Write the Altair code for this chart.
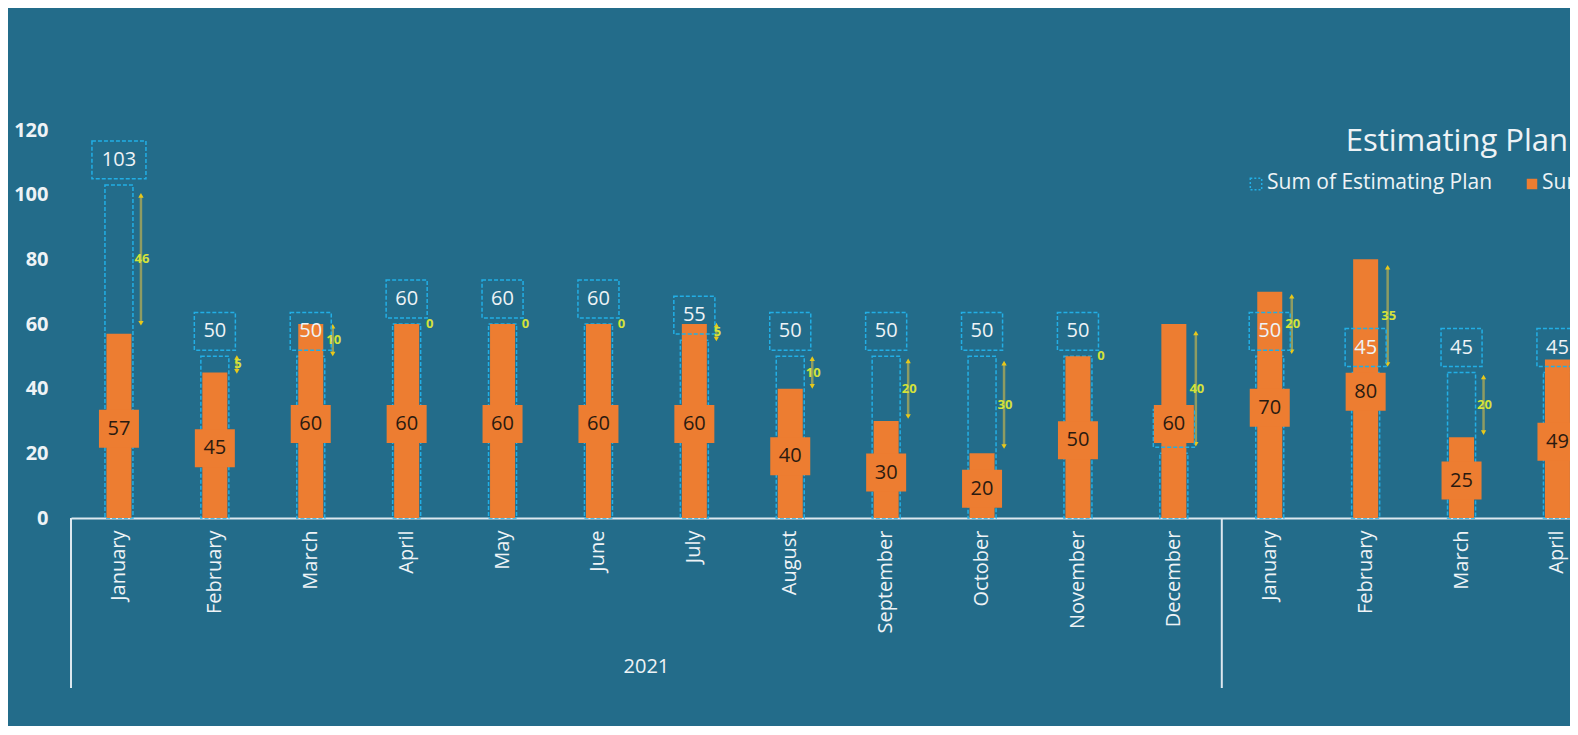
import altair as alt
import pandas as pd

# ---------------- data ----------------
years = ["2021"] * 12 + ["2022"] * 4
months = ["January", "February", "March", "April", "May", "June", "July",
          "August", "September", "October", "November", "December",
          "January", "February", "March", "April"]
plan = [103, 50, 50, 60, 60, 60, 55, 50, 50, 50, 50, 20, 50, 45, 45, 45]
actual = [57, 45, 60, 60, 60, 60, 60, 40, 30, 20, 50, 60, 70, 80, 25, 49]
y_ticks = [0, 20, 40, 60, 80, 100, 120]
title_text = "Estimating Plan"
legend_names = ["Sum of Estimating Plan", "Sum of Actual"]

df = pd.DataFrame({"year": years, "month": months, "plan": plan, "actual": actual})
df["key"] = df["year"] + "|" + df["month"]
keys = list(df["key"])

# first month of each year -> separators; middle of full years -> year labels
sep_df = df.groupby("year", sort=False).head(1)[["key"]]
full_years = df.groupby("year", sort=False)["key"].apply(list)
year_df = pd.DataFrame([{"key": ks[5], "year": y} for y, ks in full_years.items() if len(ks) == 12])

# ---------------- style ----------------
BG = "#236C8A"
ORANGE = "#ED7D31"
CYAN = "#22AEE5"
LIGHT = "#EEF3F6"
FONT = "Open Sans"
STEP = 95.9
H = 388

xscale = alt.Scale(domain=keys, range=[0, STEP * len(keys)], paddingInner=0, paddingOuter=0)
xaxis = alt.Axis(title=None, labelExpr="split(datum.label, '|')[1]", labelAngle=-90,
                 labelFontSize=20, labelColor=LIGHT, labelFont=FONT, labelPadding=12,
                 ticks=False, tickSize=0, domainColor="#DCE8EF", domainWidth=2,
                 grid=False, labelOverlap=False)
yscale = alt.Scale(domain=[0, 120])
yaxis = alt.Axis(title=None, values=y_ticks, labelFontSize=20, labelFontWeight="bold",
                 labelColor=LIGHT, labelFont=FONT, labelPadding=23, ticks=False,
                 tickSize=0, domain=False, grid=False)


def X(**kw):
    return alt.X("key:N", sort=keys, scale=xscale, axis=xaxis, **kw)


base = alt.Chart(df)

plan_bar = base.mark_bar(filled=False, stroke=CYAN, strokeWidth=1.5,
                         strokeDash=[4, 2], size=28).encode(
    x=X(), y=alt.Y("plan:Q", scale=yscale, axis=yaxis))

actual_bar = base.mark_bar(color=ORANGE, size=25).encode(
    x=X(), y=alt.Y("actual:Q", scale=yscale, axis=yaxis))

diffs = base.transform_calculate(
    diff="abs(datum.actual - datum.plan)",
    mid="(datum.actual + datum.plan) / 2",
    lo="(datum.actual + datum.plan) / 2 - 0.43 * abs(datum.actual - datum.plan)",
    hi="(datum.actual + datum.plan) / 2 + 0.43 * abs(datum.actual - datum.plan)",
)

err_rule = diffs.transform_filter("datum.diff > 0").mark_rule(
    color="#8E9C62", strokeWidth=2.5, xOffset=22).encode(
    x=X(), y=alt.Y("lo:Q", scale=yscale, axis=yaxis), y2="hi:Q")
cap_top = diffs.transform_filter("datum.diff > 0").mark_point(
    shape="triangle-up", filled=True, size=28, color="#E8C81A", opacity=1, xOffset=22).encode(
    x=X(), y=alt.Y("hi:Q", scale=yscale, axis=yaxis))
cap_bot = diffs.transform_filter("datum.diff > 0").mark_point(
    shape="triangle-down", filled=True, size=28, color="#E8C81A", opacity=1, xOffset=22).encode(
    x=X(), y=alt.Y("lo:Q", scale=yscale, axis=yaxis))

path2 = "M-0.76,-0.7H0.76V0.7H-0.76Z"
path3 = "M-1,-0.7H1V0.7H-1Z"
plan_box = base.transform_calculate(nd="'' + length('' + datum.plan)").mark_point(
    filled=False, stroke=CYAN, strokeWidth=1.5, strokeDash=[4, 2], size=2916,
    opacity=1, yOffset=-25).encode(
    x=X(), y=alt.Y("plan:Q", scale=yscale, axis=yaxis),
    shape=alt.Shape("nd:N", scale=alt.Scale(domain=["1", "2", "3"], range=[path2, path2, path3]),
                    legend=None))
plan_text = base.mark_text(font=FONT, fontSize=20, color=LIGHT, baseline="middle",
                           yOffset=-25).encode(
    x=X(), y=alt.Y("plan:Q", scale=yscale, axis=yaxis), text="plan:Q")

halves = base.transform_calculate(half="datum.actual / 2")
act_box = halves.mark_point(shape="M-1,-0.95H1V0.95H-1Z", filled=True, fill=ORANGE,
                            strokeWidth=0, size=1600, opacity=1, yOffset=3).encode(
    x=X(), y=alt.Y("half:Q", scale=yscale, axis=yaxis))
act_text = halves.mark_text(font=FONT, fontSize=20, color="#2A1A10", baseline="middle",
                            yOffset=3).encode(
    x=X(), y=alt.Y("half:Q", scale=yscale, axis=yaxis), text="actual:Q")

diff_text = diffs.mark_text(font=FONT, fontSize=13, fontWeight="bold", color="#D4E23A",
                            baseline="middle", xOffset=23).encode(
    x=X(), y=alt.Y("mid:Q", scale=yscale, axis=yaxis), text="diff:Q")

seps = alt.Chart(sep_df).mark_rule(color="#DCE8EF", strokeWidth=2).encode(
    x=X(bandPosition=0), y=alt.value(H), y2=alt.value(H + 170))
year_text = alt.Chart(year_df).mark_text(font=FONT, fontSize=20, color=LIGHT,
                                          baseline="middle").encode(
    x=X(bandPosition=1), y=alt.value(H + 149), text="year:N")

one = alt.Data(values=[{"t": title_text}])
title = alt.Chart(one).mark_text(font=FONT, fontSize=31, color=LIGHT, align="right",
                                 baseline="middle").encode(
    x=alt.value(1497), y=alt.value(12), text="t:N")
leg_df = alt.Data(values=[{"a": legend_names[0], "b": legend_names[1]}])
leg_sym1 = alt.Chart(leg_df).mark_point(shape="square", size=130, filled=False, stroke=CYAN,
                                        strokeWidth=1.5, strokeDash=[2, 2], opacity=1).encode(
    x=alt.value(1185), y=alt.value(54))
leg_txt1 = alt.Chart(leg_df).mark_text(font=FONT, fontSize=21, color=LIGHT, align="left",
                                       baseline="middle").encode(
    x=alt.value(1196), y=alt.value(53), text="a:N")
leg_sym2 = alt.Chart(leg_df).mark_square(size=110, color=ORANGE, opacity=1).encode(
    x=alt.value(1461), y=alt.value(54))
leg_txt2 = alt.Chart(leg_df).mark_text(font=FONT, fontSize=21, color=LIGHT, align="left",
                                       baseline="middle").encode(
    x=alt.value(1471), y=alt.value(53), text="b:N")

chart = alt.layer(
    plan_bar, actual_bar, err_rule, cap_top, cap_bot, plan_box, plan_text,
    act_box, act_text, diff_text, seps, year_text, title,
    leg_sym1, leg_txt1, leg_sym2, leg_txt2,
).properties(
    width=1499, height=H,
    autosize=alt.AutoSizeParams(type="none"),
    padding={"left": 63, "top": 122, "right": 0, "bottom": 208},
    background=BG,
).configure_view(stroke=None).resolve_scale(x="shared", y="shared")

chart.save("out.html", embed_options={"renderer": "svg", "actions": False})
